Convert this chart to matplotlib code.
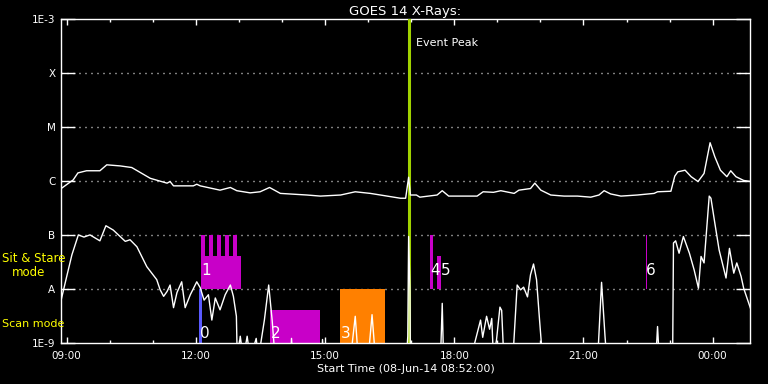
import matplotlib.pyplot as plt
from matplotlib.ticker import FixedLocator, NullLocator

# hours of 08-Jun-14 (values above 24 belong to the next day), flux as log10(W/m^2)
long_hours = [8.87, 9.15, 9.26, 9.46, 9.77, 9.93, 10.24, 10.51, 10.94, 11.33, 11.40, 11.48,
              11.94, 12.02, 12.10, 12.56, 12.80, 12.95, 13.26, 13.49, 13.71, 13.96, 14.58,
              14.89, 15.36, 15.70, 16.05, 16.44, 16.75, 16.87, 16.94, 16.98, 17.12, 17.20,
              17.60, 17.72, 17.87, 18.53, 18.67, 18.91, 19.08, 19.39, 19.50, 19.77, 19.87,
              20.01, 20.24, 20.55, 20.86, 21.17, 21.36, 21.48, 21.63, 21.87, 22.25, 22.64,
              22.72, 23.03, 23.12, 23.19, 23.36, 23.50, 23.66, 23.80, 23.94, 24.05, 24.18,
              24.33, 24.42, 24.54, 24.72, 24.89]
long_logflux = [-6.14, -5.98, -5.85, -5.81, -5.81, -5.70, -5.72, -5.75, -5.95, -6.04, -6.01,
                -6.09, -6.09, -6.06, -6.09, -6.17, -6.12, -6.18, -6.22, -6.20, -6.12, -6.23,
                -6.26, -6.28, -6.26, -6.20, -6.23, -6.28, -6.32, -6.32, -5.93, -6.26, -6.26,
                -6.30, -6.26, -6.18, -6.28, -6.28, -6.20, -6.21, -6.18, -6.23, -6.17, -6.14,
                -6.04, -6.17, -6.26, -6.28, -6.28, -6.30, -6.26, -6.18, -6.24, -6.28, -6.26,
                -6.23, -6.20, -6.19, -5.91, -5.83, -5.80, -5.92, -6.01, -5.86, -5.29, -5.55,
                -5.80, -5.92, -5.81, -5.92, -5.99, -6.01]

short_hours = [8.87, 9.00, 9.12, 9.27, 9.40, 9.54, 9.77, 9.91, 10.08, 10.36, 10.47, 10.63,
               10.86, 11.09, 11.17, 11.25, 11.33, 11.40, 11.48, 11.56, 11.67, 11.75, 11.87,
               12.02, 12.10, 12.19, 12.29, 12.37, 12.45, 12.56, 12.68, 12.80, 12.87, 12.94,
               12.96, 13.03, 13.10, 13.19, 13.26, 13.40, 13.45, 13.59, 13.69, 13.77, 13.84,
               14.20, 14.22, 14.25, 14.92, 14.94, 14.97, 15.59, 15.70, 15.77, 16.00, 16.09,
               16.17, 16.89, 16.92, 16.94, 16.97, 16.98, 17.68, 17.72, 17.75, 18.38, 18.61,
               18.66, 18.75, 18.82, 18.87, 18.91, 18.98, 19.06, 19.10, 19.15, 19.36, 19.46,
               19.54, 19.61, 19.70, 19.77, 19.84, 19.91, 19.98, 20.05, 21.33, 21.42, 21.50,
               21.54, 22.68, 22.72, 22.76, 23.07, 23.09, 23.14, 23.22, 23.32, 23.46, 23.57,
               23.67, 23.73, 23.80, 23.92, 23.96, 24.05, 24.15, 24.31, 24.39, 24.49, 24.56,
               24.66, 24.72, 24.89]
short_logflux = [-8.21, -7.77, -7.37, -7.00, -7.04, -7.00, -7.11, -6.83, -6.91, -7.12, -7.09,
                 -7.22, -7.59, -7.83, -8.02, -8.14, -8.05, -7.93, -8.35, -8.07, -7.87, -8.35,
                 -8.11, -7.87, -7.98, -8.21, -8.11, -8.58, -8.17, -8.39, -8.11, -7.93, -8.14,
                 -8.51, -9.30, -8.88, -9.30, -8.88, -9.30, -8.92, -9.30, -8.58, -7.93, -8.58,
                 -9.30, -9.30, -8.92, -9.30, -9.30, -8.94, -9.30, -9.30, -8.51, -9.30, -9.30,
                 -8.48, -9.30, -9.30, -8.88, -7.03, -8.02, -9.30, -9.30, -8.27, -9.30, -9.30,
                 -8.58, -8.90, -8.51, -8.75, -8.55, -9.30, -8.95, -8.34, -8.40, -9.30, -9.30,
                 -7.93, -8.02, -7.97, -8.15, -7.74, -7.54, -7.83, -8.58, -9.30, -9.30, -7.88,
                 -8.88, -9.30, -9.30, -8.70, -9.30, -9.30, -7.15, -7.11, -7.34, -7.03, -7.34,
                 -7.65, -7.99, -7.40, -7.52, -6.28, -6.32, -6.78, -7.28, -7.80, -7.25, -7.71,
                 -7.52, -7.77, -7.99, -8.39]

# observation windows (hours), flux band they are drawn in, colour and number
obs_labels = ['0', '1', '2', '3', '4', '5', '6']
obs_start = [12.08, 12.12, 13.73, 15.35, 17.43, 17.61, 22.45]
obs_end = [12.15, 13.05, 14.87, 16.40, 17.50, 17.68, 22.475]
obs_low = [1e-9, 1e-8, 1e-9, 1e-9, 1e-8, 1e-8, 1e-8]
obs_high = [1e-8, 4e-8, 4e-9, 1e-8, 1e-7, 4e-8, 1e-7]
obs_colors = ['#5a5aff', '#c800c8', '#c800c8', '#ff8000', '#c800c8', '#c800c8', '#c800c8']

# the repeated pointings inside window 1
finger_start = [12.12, 12.30, 12.49, 12.67, 12.86]
finger_len = 0.093

event_peak = 16.94
x_start, x_end = 8.867, 24.867

major_hours = [9, 12, 15, 18, 21, 24]
major_labels = ['09:00', '12:00', '15:00', '18:00', '21:00', '00:00']
flux_ticks = [1e-9, 1e-8, 1e-7, 1e-6, 1e-5, 1e-4, 1e-3]
flux_labels = ['1E-9', 'A', 'B', 'C', 'M', 'X', '1E-3']

W, H = 768, 384
fig = plt.figure(figsize=(W / 100, H / 100), dpi=100, facecolor='black')
ax = fig.add_axes([61 / W, (H - 342.7) / H, (750 - 61) / W, (342.7 - 19.3) / H])
ax.set_facecolor('black')
ax.set_yscale('log')
ax.set_xlim(x_start, x_end)
ax.set_ylim(1e-9, 1e-3)

for lvl in flux_ticks[1:-1]:
    ax.axhline(lvl, color='white', lw=1, ls=(0, (0.72, 3.6)), zorder=1)

# observation boxes
for s, e, lo, hi, c in zip(obs_start, obs_end, obs_low, obs_high, obs_colors):
    ax.bar(s, hi - lo, bottom=lo, width=e - s, align='edge', color=c, lw=0, zorder=2)
for s in finger_start:
    ax.bar(s, 1e-7 - 4e-8, bottom=4e-8, width=finger_len, align='edge',
           color='#c800c8', lw=0, zorder=2)

ax.axvline(event_peak, color='#a0d200', lw=2.2, zorder=3)

ax.plot(long_hours, [10 ** v for v in long_logflux], color='white', lw=1, zorder=4)
ax.plot(short_hours, [10 ** v for v in short_logflux], color='white', lw=1, zorder=4)

for s, lo, lab in zip(obs_start, obs_low, obs_labels):
    y = 2.2e-8 if lo == 1e-8 else 1.5e-9
    off = 0.07 if lab == '5' else 0.01
    ax.text(s + off, y, lab, color='white', fontsize=11, ha='left', va='center', zorder=5)

ax.text(17.12, 3.6e-4, 'Event Peak', color='white', fontsize=8, ha='left', va='center')

ax.xaxis.set_major_locator(FixedLocator(major_hours))
ax.set_xticklabels(major_labels)
ax.xaxis.set_minor_locator(FixedLocator(range(9, 25)))
ax.yaxis.set_major_locator(FixedLocator(flux_ticks))
ax.set_yticklabels(flux_labels)
ax.yaxis.set_minor_locator(NullLocator())

ax.tick_params(axis='x', which='major', direction='in', length=4.3, width=1,
               top=True, colors='white', labelsize=7.5, pad=6)
ax.tick_params(axis='x', which='minor', direction='in', length=2.2, width=1, top=True,
               colors='white')
ax.tick_params(axis='y', which='major', direction='in', length=10, width=1,
               right=True, colors='white', labelsize=7.5, pad=4)
for sp in ax.spines.values():
    sp.set_color('white')
    sp.set_linewidth(1)

ax.set_title('GOES 14 X-Rays:', color='white', fontsize=9.5, pad=3)
ax.set_xlabel('Start Time (08-Jun-14 08:52:00)', color='white', fontsize=8, labelpad=2)

fig.text(2 / W, 1 - 259 / H, 'Sit & Stare', color='yellow', fontsize=8.5,
         ha='left', va='center')
fig.text(12 / W, 1 - 272 / H, 'mode', color='yellow', fontsize=8.5,
         ha='left', va='center')
fig.text(2 / W, 1 - 324 / H, 'Scan mode', color='yellow', fontsize=8,
         ha='left', va='center')

fig.savefig('out.png', dpi=100, facecolor='black')
